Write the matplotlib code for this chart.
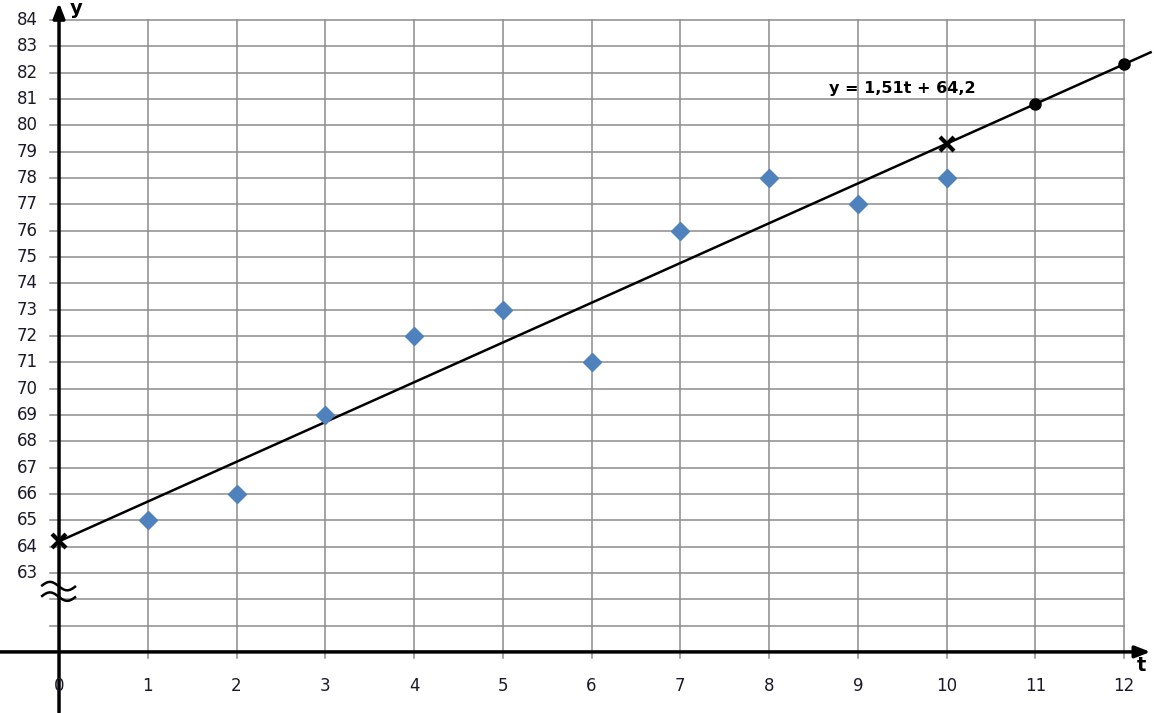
import numpy as np
import matplotlib.pyplot as plt

# observed values
t_obs = [1, 2, 3, 4, 5, 6, 7, 8, 9, 10]
y_obs = [65, 66, 69, 72, 73, 71, 76, 78, 77, 78]

# trend line y = 1.51t + 64.2
slope = 1.51
intercept = 64.2
t_cross = [0, 10]
t_dots = [11, 12]

x_ticks = list(range(0, 13))
y_ticks = list(range(63, 85))

fig = plt.figure(figsize=(11.54, 7.13), dpi=100)
ax = fig.add_axes([0, 0, 1, 1])
ax.set_xlim(-0.665, 12.338)
ax.set_ylim(57.68, 84.76)
ax.axis('off')

grid_kw = dict(color='#8c8c8c', lw=1.1, zorder=1)
# horizontal grid lines (rows below 63 are unlabeled, axis sits at 60)
for v in range(61, 85):
    ax.plot([-0.1, 12], [v, v], **grid_kw)
for v in x_ticks[1:]:
    ax.plot([v, v], [59.75, 84], **grid_kw)

# axes with arrows
ax.annotate('', xy=(12.33, 60), xytext=(-0.7, 60),
            arrowprops=dict(arrowstyle='-|>,head_length=0.9,head_width=0.35', lw=2.5, color='black'), zorder=3)
ax.annotate('', xy=(0, 84.76), xytext=(0, 57.6),
            arrowprops=dict(arrowstyle='-|>,head_length=0.9,head_width=0.35', lw=2.5, color='black'), zorder=3)

# axis break symbol
xs = np.linspace(-0.19, 0.18, 60)
for c in [62.5, 62.1]:
    ax.plot(xs, c + 0.16 * np.sin((xs + 0.005) / 0.185 * np.pi * 0.95 + np.pi),
            color='black', lw=1.8, zorder=4)

# tick labels
for v in x_ticks:
    ax.text(v, 58.7, str(v), ha='center', va='center', fontsize=12, color='#1a1a2a')
for v in y_ticks:
    ax.text(-0.24, v, str(v), ha='right', va='center', fontsize=12, color='#1a1a2a')

ax.text(0.12, 84.45, 'y', fontsize=14, fontweight='bold', ha='left', va='center')
ax.text(12.2, 59.5, 't', fontsize=14, fontweight='bold', ha='center', va='center')

# data and trend line
ax.plot(t_obs, y_obs, 'D', color='#4f81bd', markersize=9, zorder=5)
tt = np.array([0, 12.3])
ax.plot(tt, slope * tt + intercept, color='black', lw=1.8, zorder=4)
tc = np.array(t_cross)
ax.plot(tc, slope * tc + intercept, 'x', color='black', markersize=10, mew=3, zorder=6)
td = np.array(t_dots)
ax.plot(td, slope * td + intercept, 'o', color='black', markersize=8, zorder=6)

ax.text(8.68, 81.4, 'y = 1,51t + 64,2', fontsize=11.5, fontweight='bold', ha='left', va='center')

fig.savefig('out.png', dpi=100)
